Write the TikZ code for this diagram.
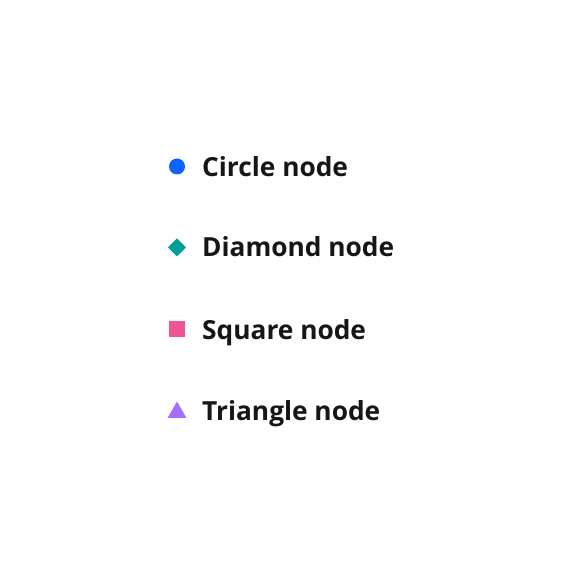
\documentclass[tikz,border=0pt]{standalone}
\usepackage{fontspec}
\setmainfont{Open Sans}
\definecolor{cblue}{HTML}{0F62FE}
\definecolor{cteal}{HTML}{009D9A}
\definecolor{cmag}{HTML}{EE5396}
\definecolor{cpurp}{HTML}{A56EFF}
\definecolor{ctext}{HTML}{161616}
\begin{document}
\begin{tikzpicture}[x=1pt,y=1pt,
  lbl/.style={anchor=base west,inner sep=0pt,text=ctext,font=\fontsize{26.3}{30}\selectfont\bfseries}]
\useasboundingbox (0,0) rectangle (576,578);
\fill[white] (0,0) rectangle (576,578);
% circle
\fill[cblue] (177,578-166.5) circle (8);
\node[lbl] (t1) at (202,578-177) {Circle node};
% diamond
\fill[cteal] (177,578-238.5) -- (186,578-247.5) -- (177,578-256.5) -- (168,578-247.5) -- cycle;
\node[lbl] (t2) at (202,578-257) {Diamond node};
% square
\fill[cmag] (169,578-321) rectangle (185,578-337);
\node[lbl] (t3) at (202,578-339.5) {Square node};
% triangle
\fill[cpurp] (177,578-401.5) -- (186.5,578-418) -- (167.5,578-418) -- cycle;
\node[lbl] (t4) at (202,578-420.5) {Triangle node};
\end{tikzpicture}
\end{document}
